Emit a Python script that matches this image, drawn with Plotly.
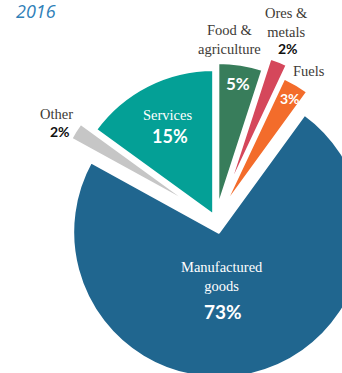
import plotly.graph_objects as go

# Share of exports by product group, 2016 (%)
year = "2016"
categories = ["Food & agriculture", "Ores & metals", "Fuels",
              "Manufactured goods", "Other", "Services"]
shares = [5, 2, 3, 73, 2, 15]
label_lines = [["Food &", "agriculture"], ["Ores &", "metals"], ["Fuels"],
               ["Manufactured", "goods"], ["Other"], ["Services"]]

colors = ["#387d5b", "#d5475b", "#f36c2b", "#20668f", "#c6c6c6", "#04a096"]
pulls = [0.08, 0.17, 0.08, 0.085, 0.14, 0.035]

# canvas and pie geometry (pixels)
W, H = 400, 400
cx, cy, R = 216, 220, 146
half = R * (1 + max(pulls))

def px(x, y):
    return x / W, 1 - y / H

fig = go.Figure(go.Pie(
    labels=categories,
    values=shares,
    sort=False,
    direction="clockwise",
    rotation=0,
    pull=pulls,
    marker=dict(colors=colors, line=dict(color="white", width=3)),
    textinfo="none",
    hoverinfo="label+percent",
    domain=dict(x=[(cx - half) / W, (cx + half) / W],
                y=[1 - (cy + half) / H, 1 - (cy - half) / H]),
))

SERIF = "Liberation Serif"
SANS = "Lato"
dark = "#3d3a36"

# label placement per slice: name block centre, percent centre, colours, sizes
name_pos = [(229, 39), (286, 22), (309, 71), (222, 276), (56, 114), (167, 115)]
name_col = [dark, dark, dark, "white", dark, "white"]
pct_pos = [(238, 84), (288, 48), (290, 98), (223, 311), (60, 131), (170, 136)]
pct_col = ["white", "#111111", "white", "white", "#111111", "white"]
pct_size = [17, 14, 14, 19, 14, 18]

annotations = []
for lines, pos, ncol, v, ppos, pcol, psz in zip(label_lines, name_pos, name_col,
                                                shares, pct_pos, pct_col, pct_size):
    ax, ay = px(*pos)
    annotations.append(dict(x=ax, y=ay, xref="paper", yref="paper",
                            text="<br>".join(lines), showarrow=False,
                            xanchor="center", yanchor="middle",
                            font=dict(family=SERIF, size=14.5, color=ncol)))
    ax, ay = px(*ppos)
    annotations.append(dict(x=ax, y=ay, xref="paper", yref="paper",
                            text=f"<b>{v}%</b>", showarrow=False,
                            xanchor="center", yanchor="middle",
                            font=dict(family=SANS, size=psz, color=pcol)))

ax, ay = px(36, 11)
annotations.append(dict(x=ax, y=ay, xref="paper", yref="paper",
                        text=f"<i>{year}</i>", showarrow=False,
                        xanchor="center", yanchor="middle",
                        font=dict(family="Open Sans", size=18, color="#2f80b8")))

fig.update_layout(
    width=W, height=H,
    margin=dict(l=0, r=0, t=0, b=0),
    paper_bgcolor="white",
    plot_bgcolor="white",
    showlegend=False,
    annotations=annotations,
)

fig.write_html(
    "out.html",
    config={"displayModeBar": False},
    post_script="document.documentElement.style.overflow='hidden';"
                "document.body.style.overflow='hidden';"
                "document.body.style.margin='0';",
)
